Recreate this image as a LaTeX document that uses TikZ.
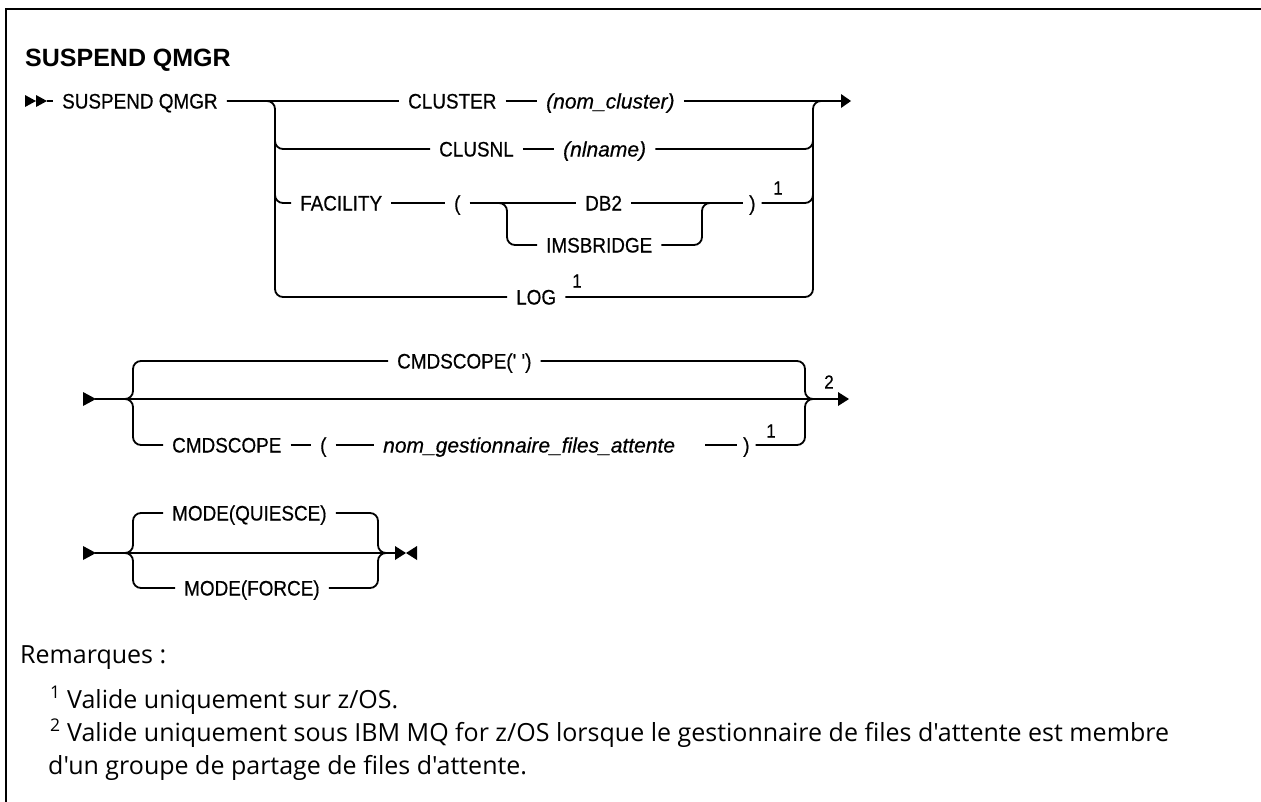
\documentclass[tikz,border=0pt]{standalone}
\usepackage{fontspec}
\setmainfont{Liberation Sans}
\newfontfamily\dfont[FakeStretch=0.9,FakeBold=0.5]{Liberation Sans}
\newfontfamily\dfonti[FakeBold=0.5]{Liberation Sans}
\newfontfamily\notefont{Open Sans}
\begin{document}
\begin{tikzpicture}[x=1pt,y=-1pt,
  t/.style={inner xsep=9pt,inner ysep=0pt,text height=15pt,text depth=0pt,anchor=west,font=\dfont\fontsize{21}{24}\selectfont},
  ti/.style={t,font=\dfonti\fontsize{21}{24}\selectfont\itshape},
  sup/.style={inner sep=0pt,anchor=center,font=\dfont\fontsize{19}{22}\selectfont},
  ln/.style={line width=1.8pt},
  rc/.style={ln,rounded corners=8pt},
  note/.style={inner sep=0pt,anchor=base west,font=\notefont\fontsize{25}{30}\selectfont}]
\useasboundingbox (0,0) rectangle (1261,801);
\draw[line width=2.6pt] (6,802) -- (6,9) -- (1262,9);
% title
\node[inner sep=0pt,anchor=west,font=\fontsize{25}{30}\selectfont\bfseries] (title) at (25,60) {SUSPEND QMGR};
% ---------------- diagram 1
\fill (25,95) -- (36,101) -- (25,107) -- cycle;
\fill (36,95) -- (47,101) -- (36,107) -- cycle;
\coordinate (s1e) at (47,101);
\node[t] (sq) at (53,101) {SUSPEND QMGR};
\node[t] (cluster) at (399,101) {CLUSTER};
\node[ti] (nomcl) at (537,101) {(nom\_cluster)};
\node[t] (clusnl) at (430,149) {CLUSNL};
\node[ti] (nlname) at (554,149) {(nlname)};
\node[t] (facility) at (291,203) {FACILITY};
\node[t] (lp) at (445,203) {(};
\node[t] (db2) at (576,203) {DB2};
\node[t] (ims) at (537,245) {IMSBRIDGE};
\node[t,inner xsep=6pt] (rp) at (743,203) {)};
\node[sup] (s1a) at (778,188) {1};
\node[t] (log) at (507,297) {LOG};
\node[sup] (s1b) at (577,281) {1};
\coordinate (e1) at (841,101);
\draw[ln] (s1e) -- (sq);
\draw[ln] (sq) -- (cluster);
\draw[ln] (cluster) -- (nomcl);
\draw[ln] (nomcl) -- (e1);
\draw[rc] (sq.east) -| (275,297) -- (log.west);
\draw[rc] (275,140) |- (clusnl.west);
\draw[rc] (275,190) |- (facility.west);
\draw[ln] (clusnl) -- (nlname);
\draw[ln] (facility) -- (lp);
\draw[ln] (lp) -- (db2);
\draw[ln] (db2) -- (rp);
\draw[rc] (499,203) -| (507,245) -- (ims.west);
\draw[rc] (ims.east) -| (702,203) -- (712,203);
\draw[rc] (nlname.east) -| (813,140);
\draw[rc] (rp.east) -| (813,195);
\draw[rc] (log.east) -| (813,101) -- (828,101);
\fill (841,94) -- (851,101) -- (841,108) -- cycle;
% ---------------- diagram 2
\fill (83,392) -- (96,399) -- (83,406) -- cycle;
\coordinate (s2) at (95,399);
\node[t] (cmdq) at (388,361) {CMDSCOPE(' ')};
\node[t] (cmd) at (163,445) {CMDSCOPE};
\node[t] (lp2) at (311,445) {(};
\node[ti] (qmn) at (374,445) {nom\_gestionnaire\_files\_attente};
\coordinate (g2) at (705,445);
\node[t,inner xsep=6pt] (rp2) at (737,445) {)};
\node[sup] (s2a) at (771,431) {1};
\node[sup] (s2b) at (829,382) {2};
\coordinate (e2) at (838,399);
\draw[ln] (s2) -- (e2);
\draw[rc] (125,399) -| (133,361) -- (cmdq.west);
\draw[rc] (125,399) -| (133,445) -- (cmd.west);
\draw[ln] (cmd) -- (lp2);
\draw[ln] (lp2) -- (qmn);
\draw[ln] (g2) -- (rp2.west);
\draw[rc] (cmdq.east) -| (805,399) -- (813,399);
\draw[rc] (rp2.east) -| (805,399) -- (813,399);
\fill (838,392) -- (849,399) -- (838,406) -- cycle;
% ---------------- diagram 3
\fill (83,546) -- (96,553) -- (83,560) -- cycle;
\coordinate (s3) at (95,553);
\node[t] (mq) at (163,513) {MODE(QUIESCE)};
\node[t] (mf) at (175,588) {MODE(FORCE)};
\coordinate (e3) at (396,553);
\draw[ln] (s3) -- (e3);
\draw[rc] (125,553) -| (133,513) -- (mq.west);
\draw[rc] (125,553) -| (133,588) -- (mf.west);
\draw[rc] (mq.east) -| (378,553) -- (386,553);
\draw[rc] (mf.east) -| (378,553) -- (386,553);
\fill (395,546) -- (406,553) -- (395,560) -- cycle;
\fill (417,546) -- (406,553) -- (417,560) -- cycle;
% ---------------- notes
\node[note] (rem) at (20,663) {Remarques :};
\node[note] (n1) at (50,708) {\textsuperscript{1} Valide uniquement sur z/OS.};
\node[note] (n2) at (50,741) {\textsuperscript{2} Valide uniquement sous IBM MQ for z/OS lorsque le gestionnaire de files d'attente est membre};
\node[note] (n3) at (48,774) {d'un groupe de partage de files d'attente.};
\end{tikzpicture}
\end{document}
